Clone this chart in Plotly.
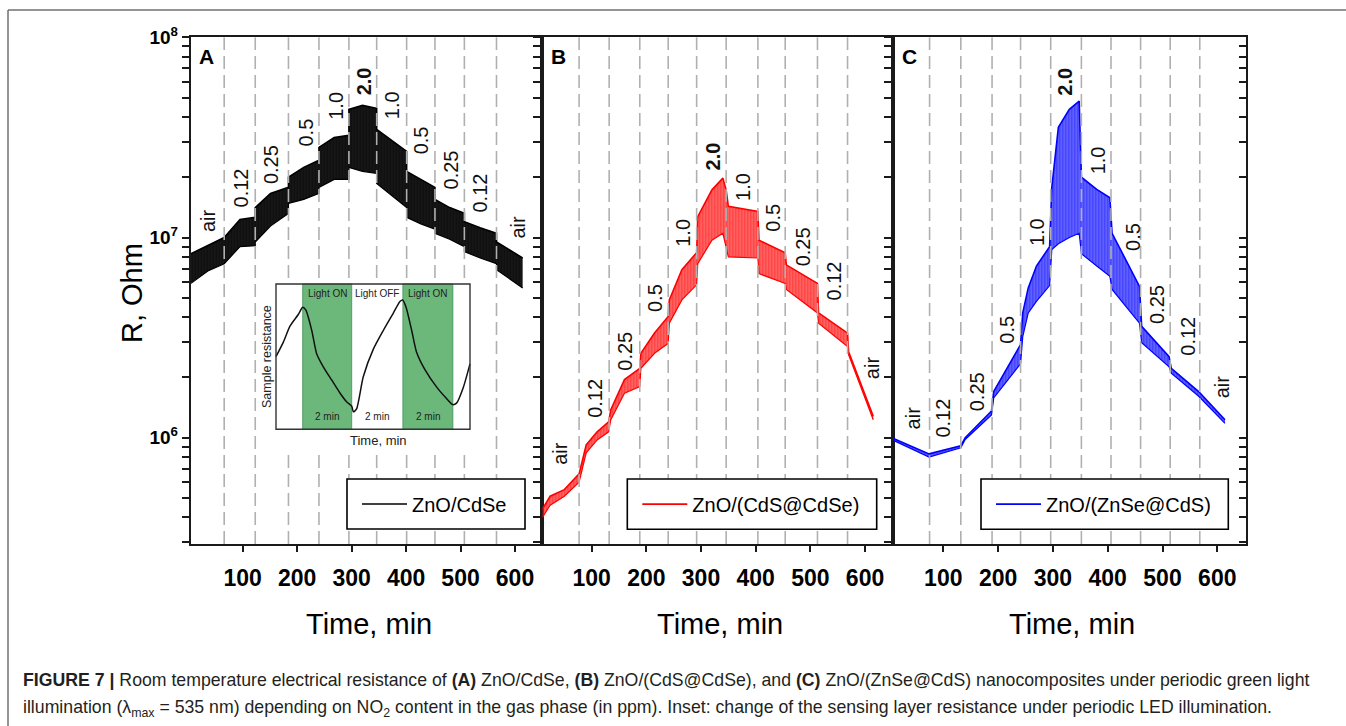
import numpy as np
import plotly.graph_objects as go

W, H = 1346, 726
FONT = "Liberation Sans, Arial, Helvetica, sans-serif"


def px(x):
    return x / W


def py(y):
    return 1 - y / H


# ---------------- data (time in min, resistance in Ohm) ----------------
# Panel A : ZnO/CdSe  (upper / lower envelope of the light-modulated signal)
A_T = [5, 36, 66, 95, 123, 123, 151, 184, 184, 212, 240, 240, 268, 295, 295, 320, 346, 346,
       401, 401, 427, 453, 453, 480, 507, 507, 536, 566, 566, 614]
A_HI = [8.3e6, 9.1e6, 1.0e7, 1.23e7, 1.26e7, 1.41e7, 1.66e7, 1.78e7, 2.0e7, 2.24e7, 2.43e7, 2.82e7,
        3.16e7, 3.24e7, 4.37e7, 4.57e7, 4.42e7, 3.47e7, 2.69e7, 2.14e7, 1.95e7, 1.78e7, 1.55e7,
        1.41e7, 1.32e7, 1.20e7, 1.12e7, 1.05e7, 9.5e6, 7.9e6]
A_LO = [5.9e6, 6.8e6, 7.4e6, 9.0e6, 9.1e6, 9.5e6, 1.14e7, 1.32e7, 1.48e7, 1.55e7, 1.66e7, 1.78e7,
        1.95e7, 1.95e7, 2.24e7, 2.14e7, 2.09e7, 1.86e7, 1.41e7, 1.26e7, 1.17e7, 1.10e7, 1.05e7,
        9.8e6, 9.0e6, 8.5e6, 7.9e6, 7.4e6, 6.9e6, 5.6e6]
A_DASH = [66, 123, 184, 240, 295, 346, 401, 453, 507, 566]

# Panel B : ZnO/(CdS@CdSe)
B_T = [10, 24, 50, 77, 90, 110, 131, 135, 160, 188, 190, 215, 240, 242, 265, 292, 294, 320, 340,
       346, 350, 404, 406, 454, 456, 513, 515, 568, 570, 615]
B_HI = [4.4e5, 5.1e5, 5.5e5, 6.6e5, 9.2e5, 1.07e6, 1.2e6, 1.38e6, 1.95e6, 2.22e6, 2.64e6, 3.33e6,
        4.03e6, 4.88e6, 6.9e6, 8.4e6, 1.27e7, 1.73e7, 1.98e7, 1.73e7, 1.43e7, 1.35e7, 9.7e6, 8.4e6,
        7.3e6, 5.9e6, 4.2e6, 3.33e6, 2.69e6, 1.28e6]
B_LO = [4.0e5, 4.6e5, 5.1e5, 6.0e5, 8.4e5, 9.75e5, 1.07e6, 1.23e6, 1.67e6, 1.8e6, 2.22e6, 2.64e6,
        2.96e6, 3.73e6, 4.88e6, 5.8e6, 7.4e6, 9.7e6, 1.05e7, 9.0e6, 8.0e6, 7.9e6, 6.6e6, 5.9e6,
        5.5e6, 4.2e6, 3.73e6, 2.85e6, 2.59e6, 1.23e6]
B_DASH = [77, 132, 188, 240, 292, 346, 404, 454, 513, 568]

# Panel C : ZnO/(ZnSe@CdS)
C_T = [9, 74, 132, 140, 188, 192, 241, 245, 255, 270, 294, 298, 310, 330, 348, 352, 380, 404,
       408, 458, 462, 512, 516, 566, 614]
C_HI = [9.9e5, 8.3e5, 9.1e5, 1.0e6, 1.36e6, 1.70e6, 2.92e6, 4.2e6, 5.6e6, 7.2e6, 9.0e6, 1.78e7,
        3.55e7, 4.37e7, 4.8e7, 2.0e7, 1.74e7, 1.58e7, 1.05e7, 5.7e6, 3.6e6, 2.54e6, 2.22e6,
        1.70e6, 1.23e6]
C_LO = [9.7e5, 8.0e5, 8.9e5, 9.8e5, 1.30e6, 1.58e6, 2.34e6, 3.2e6, 4.2e6, 4.8e6, 5.75e6, 8.7e6,
        9.3e6, 1.0e7, 1.05e7, 8.3e6, 7.2e6, 6.4e6, 5.5e6, 3.73e6, 2.98e6, 2.26e6, 2.1e6, 1.61e6,
        1.18e6]
C_DASH = [75, 132, 189, 241, 296, 352, 406, 460, 514, 568]

# NO2 concentration labels (text, time, resistance)
A_LAB = [("air", 36, 1.22e7), ("0.12", 97, 1.76e7), ("0.25", 152, 2.3e7), ("0.5", 216, 3.34e7),
         ("1.0", 271, 4.54e7), ("2.0", 322, 6.0e7), ("1.0", 373, 4.6e7), ("0.5", 428, 3.07e7),
         ("0.25", 483, 2.17e7), ("0.12", 535, 1.67e7), ("air", 605, 1.13e7)]
B_LAB = [("air", 42, 8.4e5), ("0.12", 106, 1.58e6), ("0.25", 161, 2.69e6), ("0.5", 216, 4.99e6),
         ("1.0", 268, 1.05e7), ("2.0", 322, 2.54e7), ("1.0", 377, 1.79e7), ("0.5", 431, 1.25e7),
         ("0.25", 486, 9.0e6), ("0.12", 545, 6.1e6), ("air", 612, 2.24e6)]
C_LAB = [("air", 45, 1.25e6), ("0.12", 100, 1.25e6), ("0.25", 161, 1.7e6), ("0.5", 216, 3.46e6),
         ("1.0", 270, 1.07e7), ("2.0", 322, 6.0e7), ("1.0", 383, 2.44e7), ("0.5", 445, 1.01e7),
         ("0.25", 490, 4.6e6), ("0.12", 545, 3.2e6), ("air", 608, 1.8e6)]

# Inset: sample resistance (arb. units) vs time (min) under periodic illumination
INSET_T = [0, 0.30, 0.57, 0.91, 1.09, 1.22, 1.46, 1.66, 1.93, 2.27, 2.61, 2.88, 3.09, 3.16, 3.29,
           3.56, 3.97, 4.38, 4.79, 5.06, 5.17, 5.31, 5.54, 5.74, 6.08, 6.56, 6.97, 7.21, 7.37,
           7.65, 7.92]
INSET_R = [0.50, 0.60, 0.71, 0.79, 0.84, 0.82, 0.68, 0.52, 0.43, 0.34, 0.25, 0.19, 0.16, 0.12,
           0.14, 0.36, 0.55, 0.68, 0.80, 0.88, 0.89, 0.84, 0.68, 0.53, 0.41, 0.29, 0.21, 0.17,
           0.18, 0.29, 0.45]
INSET_ON = [(1.09, 3.09), (5.18, 7.22)]
INSET_SPAN = [0, 7.92]

X_TICKS = [100, 200, 300, 400, 500, 600]
Y_MAJOR = [1e6, 1e7, 1e8]
Y_MAJOR_TXT = ["<b>10<sup>6</sup></b>", "<b>10<sup>7</sup></b>", "<b>10<sup>8</sup></b>"]

# ---------------- geometry ----------------
YLOG = [5.469, 8.0]
Y_DOM = [py(544), py(37.3)]
panels = [
    dict(name="ZnO/CdSe", color="#000000", bg="#1c1c1c", t=A_T, hi=A_HI, lo=A_LO, dash=A_DASH,
         lab=A_LAB, xa="x", ya="y", dom=[190.7, 542.3], rng=[4.5, 650.1], leg="legend",
         box=[347, 479, 525, 529], letter="A"),
    dict(name="ZnO/(CdS@CdSe)", color="#ff0000", bg="rgba(255,30,30,0.6)", t=B_T, hi=B_HI,
         lo=B_LO, dash=B_DASH, lab=B_LAB, xa="x2", ya="y2", dom=[542.3, 893.3], rng=[9.7, 651.7],
         leg="legend2", box=[627.3, 479, 876.7, 529.3], letter="B"),
    dict(name="ZnO/(ZnSe@CdS)", color="#0000ff", bg="rgba(30,30,255,0.6)", t=C_T, hi=C_HI,
         lo=C_LO, dash=C_DASH, lab=C_LAB, xa="x3", ya="y3", dom=[893.3, 1245.7],
         rng=[8.8, 651.8], leg="legend3", box=[981, 479, 1228.3, 529.3], letter="C"),
]

# minor y ticks (2..9 x 10^n inside the range)
y_minor = [m * dec for dec in [1e5, 1e6, 1e7] for m in range(2, 10) if m * dec > 10 ** YLOG[0]]

fig = go.Figure()
annotations = []
shapes = []

AX_COL = "#1a1a1a"

for i, p in enumerate(panels):
    # upper envelope (legend entry)
    fig.add_trace(go.Scatter(
        x=p["t"], y=p["hi"], mode="lines", name=p["name"],
        line=dict(color=p["color"], width=1.6), xaxis=p["xa"], yaxis=p["ya"],
        legend=p["leg"], hoverinfo="skip"))
    # lower envelope, band filled with vertical stripes (periodic illumination)
    fig.add_trace(go.Scatter(
        x=p["t"], y=p["lo"], mode="lines", showlegend=False,
        line=dict(color=p["color"], width=1.2), fill="tonexty",
        fillcolor=p["color"],
        fillpattern=dict(shape="|", size=3, solidity=0.6, fgcolor=p["color"], bgcolor=p["bg"]),
        xaxis=p["xa"], yaxis=p["ya"], hoverinfo="skip"))
    # gas switching moments (dashed lines)
    dx, dy = [], []
    for t in p["dash"]:
        dx += [t, t, None]
        dy += [10 ** YLOG[0], 10 ** YLOG[1], None]
    fig.add_trace(go.Scatter(
        x=dx, y=dy, mode="lines", showlegend=False, hoverinfo="skip",
        line=dict(color="#b0b0b0", width=1.6, dash="13px,6px"),
        xaxis=p["xa"], yaxis=p["ya"]))

    # concentration labels
    for txt, t, r in p["lab"]:
        annotations.append(dict(
            x=t, y=np.log10(r), xref=p["xa"], yref=p["ya"],
            text=("<b>%s</b>" % txt) if txt == "2.0" else txt,
            textangle=-90, showarrow=False, xanchor="center", yanchor="middle",
            font=dict(size=20, color="#111", family=FONT)))
    # panel letter
    annotations.append(dict(x=px(p["dom"][0] + 16), y=py(57), xref="paper", yref="paper",
                            text="<b>%s</b>" % p["letter"], showarrow=False, xanchor="center",
                            yanchor="middle", font=dict(size=21, color="#000", family=FONT)))
    # x axis title
    annotations.append(dict(x=px((p["dom"][0] + p["dom"][1]) / 2 + 2), y=py(624), xref="paper",
                            yref="paper", text="Time, min", showarrow=False, xanchor="center",
                            yanchor="middle", font=dict(size=29, color="#000", family=FONT)))
    # legend box
    bx0, by0, bx1, by1 = p["box"]
    shapes.append(dict(type="rect", xref="paper", yref="paper", x0=px(bx0), x1=px(bx1),
                       y0=py(by1), y1=py(by0), fillcolor="white",
                       line=dict(color="#000", width=1.6), layer="above"))

    xa_key = "xaxis" if i == 0 else "xaxis%d" % (i + 1)
    ya_key = "yaxis" if i == 0 else "yaxis%d" % (i + 1)
    fig.layout[xa_key] = dict(
        domain=[px(p["dom"][0]), px(p["dom"][1])], range=p["rng"], anchor=p["ya"],
        showgrid=False, zeroline=False, showline=True, mirror=True, automargin=False,
        linecolor=AX_COL, linewidth=1.8, ticks="outside", ticklen=6, tickwidth=1.6,
        tickcolor=AX_COL, tickvals=X_TICKS, ticktext=[str(v) for v in X_TICKS],
        tickfont=dict(size=23, family=FONT, color="#000", weight="bold"),
        ticklabelstandoff=6)
    fig.layout[ya_key] = dict(
        domain=Y_DOM, type="log", range=YLOG, anchor=p["xa"], automargin=False,
        showgrid=False, zeroline=False, showline=True, mirror=True,
        linecolor=AX_COL, linewidth=1.8, ticks="outside", ticklen=7, tickwidth=1.5,
        tickcolor=AX_COL, tickvals=Y_MAJOR, ticktext=Y_MAJOR_TXT,
        minor=dict(tickvals=y_minor, ticks="outside", ticklen=7, tickwidth=1.5,
                   tickcolor=AX_COL, showgrid=False),
        showticklabels=(i == 0),
        tickfont=dict(size=19, family=FONT, color="#000"))

    fig.layout[p["leg"]] = dict(
        x=px(bx0 + 10), y=py((by0 + by1) / 2), xanchor="left", yanchor="middle",
        bgcolor="rgba(0,0,0,0)", borderwidth=0, itemwidth=45,
        font=dict(size=20, family=FONT, color="#000"))

# right-hand ticks of panel C (pointing inwards)
fig.add_trace(go.Scatter(x=[], y=[], xaxis="x3", yaxis="y5", showlegend=False))
fig.layout["yaxis5"] = dict(
    type="log", range=YLOG, overlaying="y3", side="right", anchor="x3", automargin=False,
    showgrid=False, zeroline=False, showline=False, ticks="inside", ticklen=7, tickwidth=1.5,
    tickcolor=AX_COL, tickvals=Y_MAJOR, showticklabels=False,
    minor=dict(tickvals=y_minor, ticks="inside", ticklen=7, tickwidth=1.5, tickcolor=AX_COL,
               showgrid=False))

# ---------------- inset ----------------
INS_DOM_PX = [258, 472, 282, 455]          # white area (px)
INS_BOX_PX = [276, 470, 284, 429.3]        # inset frame (px)
sx = (INS_BOX_PX[1] - INS_BOX_PX[0]) / (INSET_SPAN[1] - INSET_SPAN[0])
sy = INS_BOX_PX[3] - INS_BOX_PX[2]
ins_xr = [INSET_SPAN[0] - (INS_BOX_PX[0] - INS_DOM_PX[0]) / sx,
          INSET_SPAN[1] + (INS_DOM_PX[1] - INS_BOX_PX[1]) / sx]
ins_yr = [-(INS_DOM_PX[3] - INS_BOX_PX[3]) / sy, 1 + (INS_BOX_PX[2] - INS_DOM_PX[2]) / sy]

fig.add_trace(go.Scatter(x=[ins_xr[0], ins_xr[1], ins_xr[1], ins_xr[0], ins_xr[0]],
                         y=[ins_yr[0], ins_yr[0], ins_yr[1], ins_yr[1], ins_yr[0]],
                         mode="lines", fill="toself", fillcolor="white",
                         line=dict(width=0, color="white"), xaxis="x4", yaxis="y4",
                         showlegend=False, hoverinfo="skip"))
for s, e in INSET_ON:
    fig.add_trace(go.Scatter(x=[s, e, e, s, s], y=[0, 0, 1, 1, 0], mode="lines", fill="toself",
                             fillcolor="#6cb87b", line=dict(width=0.8, color="#3f8f52"),
                             xaxis="x4", yaxis="y4", showlegend=False, hoverinfo="skip"))
fig.add_trace(go.Scatter(x=INSET_T, y=INSET_R, mode="lines",
                         line=dict(color="#111", width=1.5, shape="spline", smoothing=0.6),
                         xaxis="x4", yaxis="y4", showlegend=False, hoverinfo="skip"))
fig.layout["xaxis4"] = dict(domain=[px(INS_DOM_PX[0]), px(INS_DOM_PX[1])], range=ins_xr,
                            anchor="y4", visible=False, automargin=False)
fig.layout["yaxis4"] = dict(domain=[py(INS_DOM_PX[3]), py(INS_DOM_PX[2])], range=ins_yr,
                            anchor="x4", visible=False, automargin=False)
shapes.append(dict(type="rect", xref="x4", yref="y4", x0=INSET_SPAN[0], x1=INSET_SPAN[1],
                   y0=0, y1=1, line=dict(color="#333", width=1.4), layer="above"))
on_mid = [(s + e) / 2 for s, e in INSET_ON]
off_mid = (INSET_ON[0][1] + INSET_ON[1][0]) / 2
for xm, txt in [(on_mid[0], "Light ON"), (off_mid, "Light OFF"), (on_mid[1], "Light ON")]:
    annotations.append(dict(x=xm, y=0.935, xref="x4", yref="y4", text=txt, showarrow=False,
                            xanchor="center", yanchor="middle",
                            font=dict(size=10, family=FONT, color="#222")))
for xm in [on_mid[0], off_mid, on_mid[1]]:
    annotations.append(dict(x=xm, y=0.085, xref="x4", yref="y4", text="2 min", showarrow=False,
                            xanchor="center", yanchor="middle",
                            font=dict(size=10, family=FONT, color="#222")))
annotations.append(dict(x=px(267), y=py(357), xref="paper", yref="paper",
                        text="Sample resistance", textangle=-90, showarrow=False,
                        xanchor="center", yanchor="middle",
                        font=dict(size=12.5, family=FONT, color="#222")))
annotations.append(dict(x=px(378), y=py(440), xref="paper", yref="paper", text="Time, min",
                        showarrow=False, xanchor="center", yanchor="middle",
                        font=dict(size=13, family=FONT, color="#222")))

# y axis title
annotations.append(dict(x=px(132), y=py(293), xref="paper", yref="paper", text="R, Ohm",
                        textangle=-90, showarrow=False, xanchor="center", yanchor="middle",
                        font=dict(size=29, family=FONT, color="#000")))

# caption
CAP1 = ("<b>FIGURE 7 |</b> Room temperature electrical resistance of <b>(A)</b> ZnO/CdSe, "
        "<b>(B)</b> ZnO/(CdS@CdSe), and <b>(C)</b> ZnO/(ZnSe@CdS) nanocomposites under periodic green light")
CAP2 = ("illumination (λ<sub>max</sub> = 535 nm) depending on NO<sub>2</sub> content in the gas phase "
        "(in ppm). Inset: change of the sensing layer resistance under periodic LED illumination.")
for yy, txt in [(680, CAP1), (708, CAP2)]:
    annotations.append(dict(x=px(21), y=py(yy), xref="paper", yref="paper", text=txt,
                            xanchor="left", yanchor="middle", showarrow=False,
                            font=dict(size=17.7, family=FONT, color="#231f20")))

# outer frame
shapes.append(dict(type="line", xref="paper", yref="paper", x0=px(8), x1=1, y0=py(10), y1=py(10),
                   line=dict(color="#707070", width=1.5), layer="above"))
shapes.append(dict(type="line", xref="paper", yref="paper", x0=px(8), x1=px(8), y0=py(10), y1=0,
                   line=dict(color="#707070", width=1.5), layer="above"))

fig.update_layout(
    width=W, height=H, margin=dict(l=0, r=0, t=0, b=0, autoexpand=False),
    paper_bgcolor="white", plot_bgcolor="white",
    font=dict(family=FONT, color="#000"),
    annotations=annotations, shapes=shapes, showlegend=True,
)

fig.write_html("out.html", config={"displayModeBar": False},
               post_script="document.body.style.margin='0px';document.body.style.overflow='hidden';")
